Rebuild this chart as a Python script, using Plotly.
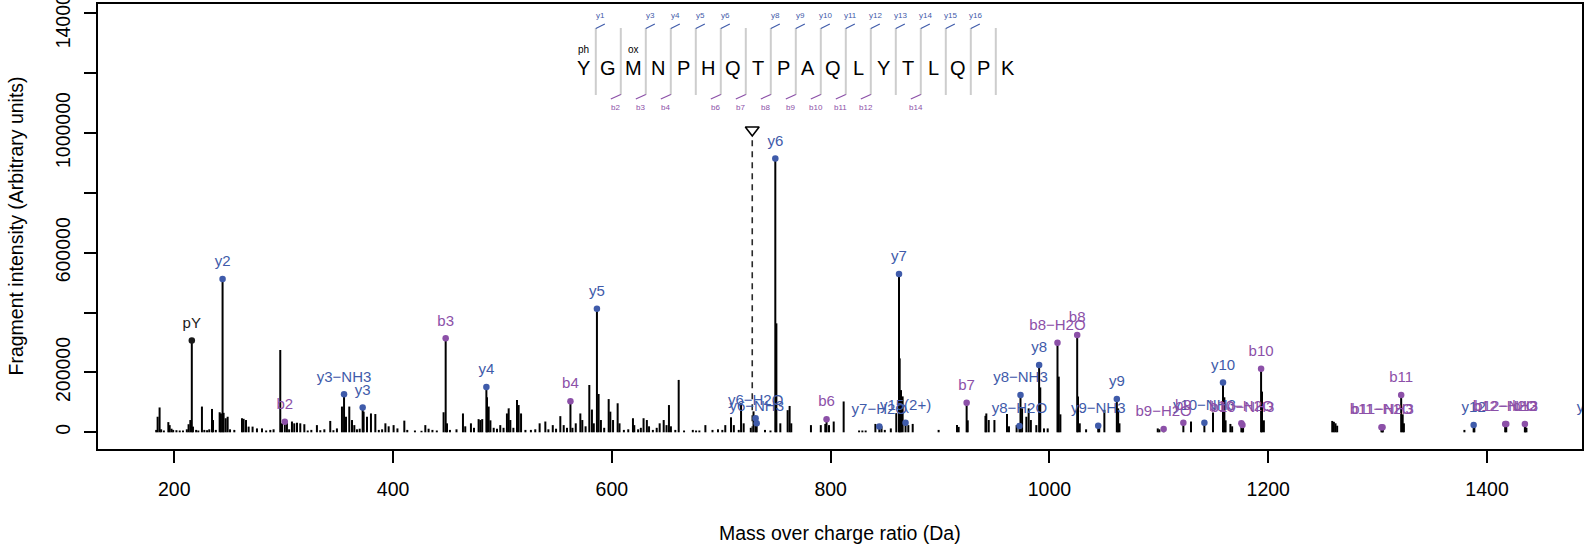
import plotly.graph_objects as go

# ---------------- data ----------------
# annotated fragment ions
ion_labels = ["pY", "y2", "b2", "y3-NH3", "y3", "b3", "y4", "b4", "y5",
              "y6-H2O", "y6-NH3", "y6", "b6", "y7-H2O", "y7", "y15(2+)", "b7",
              "y8-H2O", "y8-NH3", "y8", "b8-H2O", "b8", "y9-NH3", "y9",
              "b9-H2O", "b9", "y10-NH3", "y10", "b10-H2O", "b10-NH3", "b10",
              "b11-H2O", "b11-NH3", "b11", "y12", "b12-H2O", "b12-NH3", "b12", "y13"]
ion_mz = [216.04, 244.17, 301.06, 355.20, 372.22, 448.10, 485.31, 562.15, 586.36,
          731.41, 732.40, 749.42, 796.26, 844.49, 862.50, 868.46, 924.31,
          972.55, 973.53, 990.56, 1007.35, 1025.36, 1044.57, 1061.60,
          1104.40, 1122.41, 1141.62, 1158.65, 1175.44, 1176.42, 1193.45,
          1303.50, 1304.48, 1321.51, 1387.76, 1416.58, 1417.57, 1434.59, 1493.0]
ion_int = [307000, 512000, 35000, 127000, 83000, 314000, 151000, 104000, 413000,
           47000, 30000, 915000, 44000, 19000, 529000, 32000, 99000,
           21000, 125000, 225000, 299000, 325000, 22000, 111000,
           11000, 32000, 32000, 166000, 30000, 24000, 212000,
           17000, 17000, 125000, 24000, 28000, 28000, 28000, 24000]
ion_type = ["o", "y", "b", "y", "y", "b", "y", "b", "y",
            "y", "y", "y", "b", "y", "y", "y", "b",
            "y", "y", "y", "b", "b", "y", "y",
            "b", "b", "y", "y", "b", "b", "b",
            "b", "b", "b", "y", "b", "b", "b", "y"]

# unannotated peaks
peak_mz = [183.5, 184.8, 186.6, 188.0, 190.5, 194.6, 195.8, 197.5, 199.0, 202.0, 205.0, 208.0,
           211.5, 213.1, 214.7, 217.1, 220.0, 222.0, 225.3, 227.5, 230.0, 232.0, 234.5, 235.4,
           238.0, 241.5, 242.7, 245.1, 247.0, 248.8, 251.0, 254.9, 261.9, 263.4, 265.6, 268.0,
           271.6, 275.6, 280.2, 284.0, 287.8, 290.8, 296.9, 298.5, 303.0, 305.0, 307.6, 309.7,
           312.2, 315.2, 318.9, 322.0, 325.3, 330.4, 333.5, 337.2, 342.6, 345.5, 348.7, 353.3,
           357.0, 360.0, 362.5, 364.6, 367.0, 369.5, 373.1, 376.2, 379.8, 383.8, 387.0, 390.0,
           393.0, 396.0, 400.5, 404.0, 410.3, 413.0, 420.0, 426.0, 429.5, 432.5, 436.0, 440.0,
           446.2, 449.3, 452.0, 458.0, 463.9, 466.0, 471.2, 474.0, 478.2, 479.8, 481.5, 485.9,
           487.4, 489.0, 492.0, 495.0, 498.0, 501.0, 504.1, 505.7, 507.2, 510.0, 513.3, 514.8,
           517.0, 521.0, 526.0, 530.0, 534.0, 539.2, 542.0, 546.0, 549.0, 552.9, 556.0, 559.0,
           564.0, 567.0, 571.2, 573.0, 576.0, 579.4, 581.8, 583.5, 587.9, 590.0, 593.0, 597.1,
           598.6, 601.1, 605.3, 607.0, 611.0, 615.0, 619.3, 620.5, 624.0, 626.5, 629.0, 632.0,
           634.0, 637.5, 641.0, 643.7, 647.4, 650.0, 652.2, 654.0, 658.0, 661.1, 666.0, 674.0,
           677.0, 680.0, 685.5, 692.0, 697.0, 701.0, 703.7, 708.9, 711.5, 716.0, 718.1, 720.5,
           727.0, 729.5, 740.0, 745.0, 750.4, 754.0, 760.7, 762.5, 764.0, 782.0, 791.0, 795.1,
           798.5, 802.8, 811.9, 826.0, 829.0, 832.0, 840.9, 846.5, 849.5, 855.0, 860.0, 863.1,
           864.3, 865.8, 871.0, 875.0, 898.7, 915.5, 917.0, 925.3, 941.5, 942.3, 944.5, 949.7,
           961.2, 963.0, 970.0, 975.0, 978.9, 981.0, 983.0, 988.0, 991.6, 995.0, 998.4, 1008.5,
           1010.0, 1026.1, 1027.7, 1033.5, 1045.5, 1050.2, 1062.8, 1064.0, 1099.0, 1100.5, 1129.4,
           1149.5, 1159.9, 1161.0, 1165.4, 1167.0, 1177.0, 1194.3, 1196.0, 1258.5, 1260.0, 1261.5,
           1263.0, 1304.6, 1322.9, 1324.0, 1379.3, 1388.4, 1435.0, 1436.0]
peak_int = [8000, 52000, 83000, 10000, 6000, 34000, 24000, 12000, 8000, 7000, 6000, 6000,
            10000, 27000, 41000, 19000, 8000, 6000, 86000, 8000, 7000, 10000, 78000, 41000,
            8000, 67000, 63000, 65000, 47000, 52000, 10000, 8000, 47000, 45000, 41000, 19000,
            19000, 13000, 13000, 6000, 8000, 10000, 275000, 30000, 32000, 10000, 36000, 30000,
            32000, 30000, 27000, 6000, 8000, 24000, 7000, 10000, 38000, 7000, 13000, 86000,
            52000, 86000, 41000, 24000, 10000, 12000, 69000, 52000, 63000, 61000, 8000, 10000,
            30000, 20000, 24000, 13000, 39000, 8000, 6000, 5000, 24000, 12000, 8000, 6000,
            67000, 30000, 8000, 10000, 63000, 20000, 30000, 15000, 44000, 41000, 44000, 117000,
            86000, 40000, 15000, 12000, 24000, 15000, 63000, 80000, 41000, 15000, 108000, 91000,
            63000, 8000, 8000, 10000, 30000, 36000, 10000, 24000, 12000, 54000, 24000, 15000,
            15000, 30000, 63000, 41000, 20000, 158000, 76000, 30000, 128000, 41000, 15000, 111000,
            69000, 41000, 97000, 30000, 8000, 10000, 47000, 24000, 10000, 15000, 47000, 41000,
            20000, 8000, 15000, 30000, 41000, 24000, 91000, 20000, 8000, 175000, 6000, 8000,
            6000, 6000, 24000, 8000, 10000, 8000, 24000, 50000, 24000, 8000, 97000, 30000,
            15000, 70000, 8000, 6000, 364000, 30000, 74000, 88000, 30000, 24000, 24000, 28000,
            24000, 36000, 103000, 6000, 6000, 6000, 28000, 20000, 8000, 13000, 64000, 247000,
            141000, 120000, 24000, 28000, 8000, 24000, 18000, 40000, 55000, 63000, 41000, 41000,
            61000, 20000, 24000, 80000, 52000, 80000, 41000, 24000, 150000, 13000, 13000, 186000,
            60000, 120000, 30000, 10000, 20000, 75000, 80000, 30000, 13000, 10000, 36000,
            66000, 117000, 40000, 28000, 20000, 25000, 136000, 40000, 38000, 35000, 30000,
            22000, 8000, 60000, 30000, 8000, 21000, 21000, 15000]

precursor_mz = 728.34
precursor_int = 1010000

sequence = list("YGMNPHQTPAQLYTLQPK")
mod_pos = [0, 2]
mod_text = ["ph", "ox"]
seq_y_ions = [1, 3, 4, 5, 6, 8, 9, 10, 11, 12, 13, 14, 15, 16]
seq_b_ions = [2, 3, 4, 6, 7, 8, 9, 10, 11, 12, 14]

x_tickvals = [200, 400, 600, 800, 1000, 1200, 1400]
y_tickvals = [0, 200000, 400000, 600000, 800000, 1000000, 1200000, 1400000]
y_ticktext = ["0", "200000", "", "600000", "", "1000000", "", "1400000"]

# ---------------- layout geometry ----------------
W, H = 1596, 548
L, R, T, B = 98, 14, 4, 99
PW, PH = W - L - R, H - T - B
X_RANGE = [130.3, 1486.8]
Y_RANGE = [-55800, 1431000]
UPP = (Y_RANGE[1] - Y_RANGE[0]) / PH  # intensity units per pixel

FONT = "Liberation Sans, Arial, Helvetica, sans-serif"
Y_COL = "#3F5BAA"
B_COL = "#8C50A8"
O_COL = "#1a1a1a"
col_of = {"y": Y_COL, "b": B_COL, "o": O_COL}


def px(xp):
    return (xp - L) / PW


def py(yp):
    return (H - B - yp) / PH


fig = go.Figure()

# sticks
all_mz = peak_mz + ion_mz
all_int = peak_int + ion_int
sx, sy = [], []
for m, i in zip(all_mz, all_int):
    sx += [m, m, None]
    sy += [0, i, None]
fig.add_trace(go.Scatter(x=sx, y=sy, mode="lines", line=dict(color="black", width=2),
                         hoverinfo="skip", showlegend=False))

# precursor
fig.add_trace(go.Scatter(x=[precursor_mz, precursor_mz], y=[0, precursor_int - 6 * UPP],
                         mode="lines", line=dict(color="#2a2a2a", width=1.6, dash="6px,5px"),
                         hoverinfo="skip", showlegend=False))
fig.add_trace(go.Scatter(x=[precursor_mz], y=[precursor_int], mode="markers",
                         marker=dict(symbol="triangle-down-open", size=12, color="black",
                                     line=dict(width=1.6, color="black")),
                         hoverinfo="skip", showlegend=False))

# ion markers + labels
for t in ["o", "y", "b"]:
    idx = [k for k, tt in enumerate(ion_type) if tt == t]
    xs = [ion_mz[k] for k in idx]
    ys = [ion_int[k] for k in idx]
    fig.add_trace(go.Scatter(x=xs, y=ys, mode="markers",
                             marker=dict(size=6.5, color=col_of[t]),
                             cliponaxis=True, hoverinfo="skip", showlegend=False))
    fig.add_trace(go.Scatter(x=xs, y=[v + 16.5 * UPP for v in ys], mode="text",
                             text=[ion_labels[k].replace("-", "\u2212") for k in idx],
                             textposition="middle center",
                             textfont=dict(family=FONT, size=15, color=col_of[t]),
                             cliponaxis=True, hoverinfo="skip", showlegend=False))

shapes = []
annotations = []

# peptide sequence diagram
LET_X0, LET_DX, LET_Y = 583.3, 25.0, 68
for i, aa in enumerate(sequence):
    annotations.append(dict(x=px(LET_X0 + LET_DX * i), y=py(LET_Y), xref="paper", yref="paper",
                            text=aa, showarrow=False, font=dict(family=FONT, size=20, color="black"),
                            xanchor="center", yanchor="middle"))
for p, mt in zip(mod_pos, mod_text):
    annotations.append(dict(x=px(LET_X0 + LET_DX * p), y=py(49), xref="paper", yref="paper",
                            text=mt, showarrow=False, font=dict(family=FONT, size=10, color="black"),
                            xanchor="center", yanchor="middle"))
SEP_X0 = LET_X0 + LET_DX / 2
for j in range(len(sequence) - 1):
    s = SEP_X0 + LET_DX * j
    shapes.append(dict(type="line", xref="paper", yref="paper", x0=px(s), x1=px(s),
                       y0=py(28), y1=py(95), line=dict(color="#cdcdcd", width=2)))
for n in seq_y_ions:
    s = SEP_X0 + LET_DX * (n - 1)
    shapes.append(dict(type="line", xref="paper", yref="paper", x0=px(s), x1=px(s + 9),
                       y0=py(28.5), y1=py(24), line=dict(color=Y_COL, width=1.2)))
    annotations.append(dict(x=px(s + 4.5), y=py(15), xref="paper", yref="paper",
                            text="y%d" % n, showarrow=False,
                            font=dict(family=FONT, size=8, color=Y_COL),
                            xanchor="center", yanchor="middle"))
for n in seq_b_ions:
    s = SEP_X0 + LET_DX * (n - 1)
    shapes.append(dict(type="line", xref="paper", yref="paper", x0=px(s), x1=px(s - 10),
                       y0=py(94.5), y1=py(99), line=dict(color=B_COL, width=1.2)))
    annotations.append(dict(x=px(s - 5), y=py(107.5), xref="paper", yref="paper",
                            text="b%d" % n, showarrow=False,
                            font=dict(family=FONT, size=8, color=B_COL),
                            xanchor="center", yanchor="middle"))

# axis titles
annotations.append(dict(x=px(L + PW / 2), y=py(532.5), xref="paper", yref="paper",
                        text="Mass over charge ratio (Da)", showarrow=False,
                        font=dict(family=FONT, size=19.5, color="black"),
                        xanchor="center", yanchor="middle"))
annotations.append(dict(x=px(15), y=py(T + PH / 2), xref="paper", yref="paper",
                        text="Fragment intensity (Arbitrary units)", showarrow=False, textangle=-90,
                        font=dict(family=FONT, size=19.5, color="black"),
                        xanchor="center", yanchor="middle"))

fig.update_layout(
    width=W, height=H,
    margin=dict(l=L, r=R, t=T, b=B, pad=0, autoexpand=False),
    paper_bgcolor="white", plot_bgcolor="white",
    shapes=shapes, annotations=annotations,
    showlegend=False,
    xaxis=dict(range=X_RANGE, tickvals=x_tickvals, ticks="outside", ticklen=12, tickwidth=1.6,
               tickcolor="black", showline=True, linecolor="black", linewidth=2, mirror=True,
               showgrid=False, zeroline=False, ticklabelstandoff=10, automargin=False,
               ticklabeloverflow="allow",
               tickfont=dict(family=FONT, size=19.5, color="black")),
    yaxis=dict(range=Y_RANGE, tickvals=y_tickvals, ticktext=y_ticktext, ticks="outside",
               ticklen=12, tickwidth=1.6, tickcolor="black", showline=True, linecolor="black",
               linewidth=2, mirror=True, showgrid=False, zeroline=False, tickangle=-90,
               ticklabelstandoff=6, automargin=False, ticklabeloverflow="allow",
               tickfont=dict(family=FONT, size=19.5, color="black")),
)

fig.write_html("out.html", config={"displayModeBar": False},
               post_script="document.body.style.margin='0';document.body.style.overflow='hidden';")
